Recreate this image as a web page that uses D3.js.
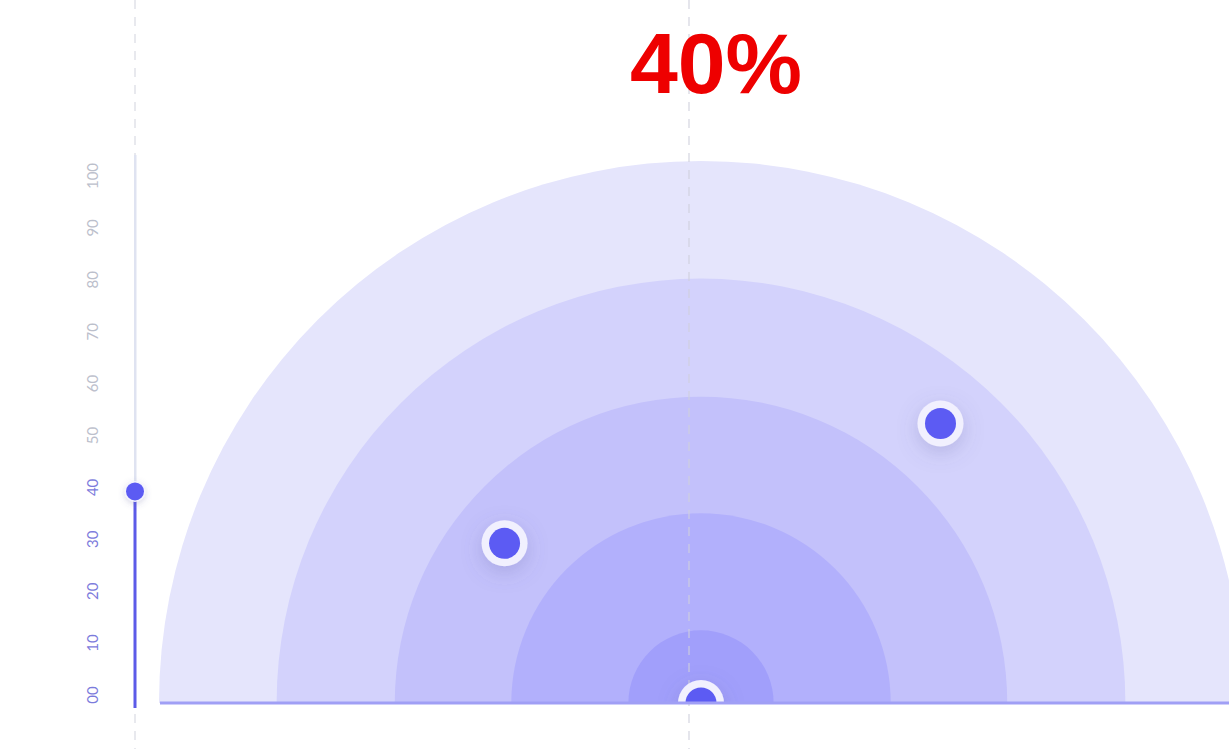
<!DOCTYPE html>
<html>
<head>
<meta charset="utf-8">
<script src="https://cdn.jsdelivr.net/npm/d3@7"></script>
<style>
  html, body { margin: 0; padding: 0; background: #ffffff; }
  svg { display: block; }
</style>
</head>
<body>
<svg id="chart" width="1229" height="749"></svg>
<script>
// ---- data ----
const ringValues = [100, 78.3, 56.5, 35, 13.4];          // radial extent of each band
const ringColors = ["#e5e5fc", "#d3d2fc", "#c3c1fb", "#b2b0fc", "#a19ffb"];
const pointAngles = [140.9, 49.4, 90];                    // degrees, 0 = right
const pointRadii = [46.7, 67.9, 0];                       // radial value
const tickValues = [0, 10, 20, 30, 40, 50, 60, 70, 80, 90, 100];
const currentValue = 40;
const headline = "40%";

// ---- layout ----
const W = 1229, H = 749;
const cx = 701, baseY = 703;
const svg = d3.select("#chart");

const rScale = d3.scaleLinear().domain([0, 100]).range([0, 542]);
const yScale = d3.scaleLinear().domain([0, 100]).range([695, 176]);

const defs = svg.append("defs");
const f = defs.append("filter").attr("id", "glow").attr("x", "-150%").attr("y", "-150%").attr("width", "400%").attr("height", "400%");
f.append("feDropShadow").attr("dx", 0).attr("dy", 6).attr("stdDeviation", 10)
  .attr("flood-color", "#5a5a9a").attr("flood-opacity", 0.25);
const f2 = defs.append("filter").attr("id", "glow2").attr("x", "-150%").attr("y", "-150%").attr("width", "400%").attr("height", "400%");
f2.append("feDropShadow").attr("dx", 0).attr("dy", 2).attr("stdDeviation", 3)
  .attr("flood-color", "#5a5a9a").attr("flood-opacity", 0.25);
defs.append("clipPath").attr("id", "above")
  .append("rect").attr("x", 0).attr("y", 0).attr("width", W).attr("height", baseY);

// ---- semicircle bands ----
const arc = d3.arc().innerRadius(0).startAngle(-Math.PI / 2).endAngle(Math.PI / 2);
svg.append("g").attr("transform", `translate(${cx},${baseY})`)
  .selectAll("path").data(ringValues).join("path")
  .attr("d", d => arc({ outerRadius: rScale(d) }))
  .attr("fill", (d, i) => ringColors[i]);

// ---- dashed guides ----
svg.append("line").attr("x1", 135).attr("x2", 135).attr("y1", 0).attr("y2", H)
  .attr("stroke", "#d9dbe3").attr("stroke-width", 1.2).attr("stroke-dasharray", "9,8");
svg.append("line").attr("x1", 689).attr("x2", 689).attr("y1", 0).attr("y2", H)
  .attr("stroke", "#cfd0dc").attr("stroke-width", 1.2).attr("stroke-dasharray", "9,8").attr("opacity", 0.9);

// ---- points ----
const pts = pointAngles.map((a, i) => {
  const rad = a * Math.PI / 180, r = rScale(pointRadii[i]);
  return { x: cx + r * Math.cos(rad), y: baseY - r * Math.sin(rad) };
});
const pg = svg.append("g").attr("clip-path", "url(#above)");
const dot = pg.selectAll("g").data(pts).join("g").attr("transform", d => `translate(${d.x},${d.y})`);
dot.append("circle").attr("r", 23).attr("fill", "#f1f0fe").attr("filter", "url(#glow)");
dot.append("circle").attr("r", 15.5).attr("fill", "#5c5bf3");

// ---- baseline ----
svg.append("line").attr("x1", 160).attr("x2", W).attr("y1", baseY).attr("y2", baseY)
  .attr("stroke", "#a09ff5").attr("stroke-width", 3);

// ---- vertical axis ----
svg.append("rect").attr("x", 134).attr("y", 155).attr("width", 2.5).attr("height", yScale(currentValue) - 155)
  .attr("fill", "#dfe3f1");
svg.append("rect").attr("x", 133.5).attr("y", yScale(currentValue)).attr("width", 3).attr("height", 708 - yScale(currentValue))
  .attr("fill", "#5c5be8");

const axis = d3.axisLeft(yScale).tickValues(tickValues).tickSize(0)
  .tickFormat(d => d === 0 ? "00" : String(d));
const ag = svg.append("g").attr("transform", "translate(92,0)").call(axis);
ag.select(".domain").remove();
ag.selectAll(".tick").attr("transform", null);
ag.selectAll("text")
  .attr("dy", null)
  .attr("transform", "rotate(-90)")
  .attr("x", d => -yScale(d)).attr("y", 0)
  .attr("text-anchor", "middle").attr("dominant-baseline", "central")
  .attr("font-family", "Lato, sans-serif").attr("font-size", 15)
  .attr("fill", d => d <= currentValue ? "#7c7bdc" : "#bcc0cc");

svg.append("circle").attr("cx", 135).attr("cy", yScale(currentValue) + 4).attr("r", 10.5)
  .attr("fill", "#f3f3fe").attr("filter", "url(#glow2)");
svg.append("circle").attr("cx", 135).attr("cy", yScale(currentValue) + 4).attr("r", 9)
  .attr("fill", "#5c5bf3");

// ---- headline ----
svg.append("text").attr("x", 716).attr("y", 93).attr("text-anchor", "middle")
  .attr("font-family", "Liberation Sans, Arial, sans-serif").attr("font-weight", 700).attr("font-size", 86)
  .attr("fill", "#ee0000").text(headline);
</script>
</body>
</html>
